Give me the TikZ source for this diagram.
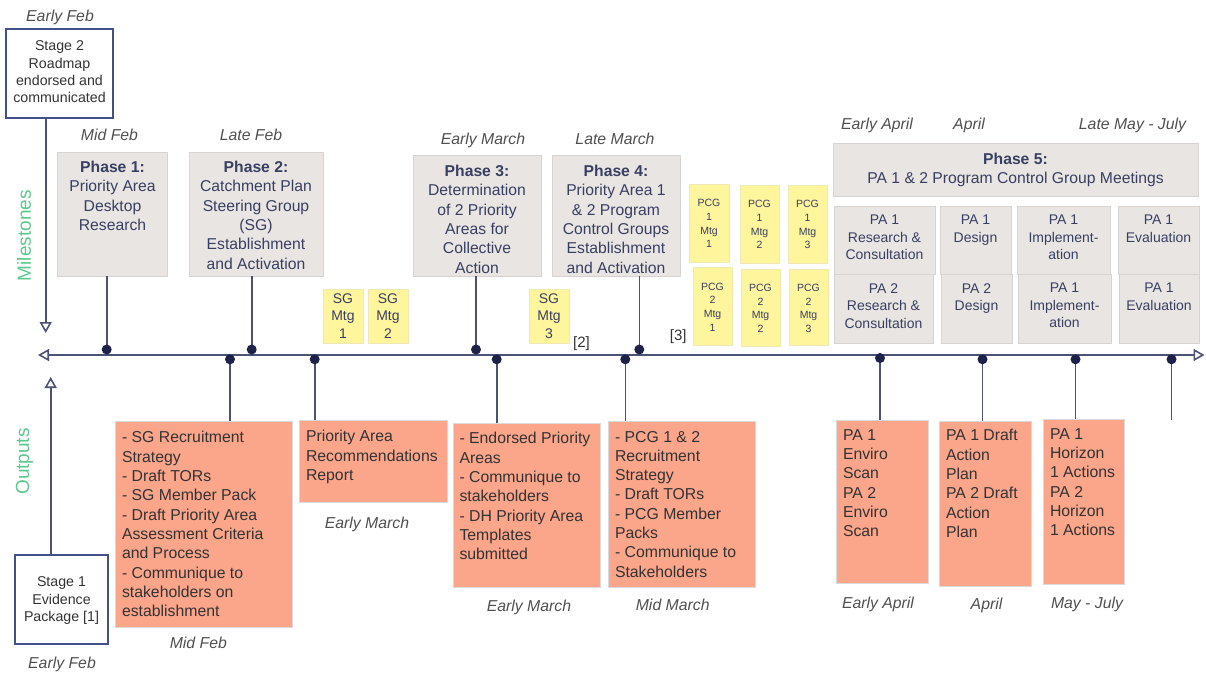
\documentclass[tikz,border=0pt]{standalone}
\usepackage{fontspec}
\setmainfont{Liberation Sans}
\usetikzlibrary{arrows.meta}
\definecolor{linec}{HTML}{4B5275}
\definecolor{dotc}{HTML}{1E2248}
\definecolor{gfill}{HTML}{E9E5E2}
\definecolor{gdraw}{HTML}{D6D3D0}
\definecolor{ofill}{HTML}{FBA58B}
\definecolor{odraw}{HTML}{DADADA}
\definecolor{yfill}{HTML}{FFF59C}
\definecolor{ydraw}{HTML}{EFEAB4}
\definecolor{navyt}{HTML}{383F62}
\definecolor{darkt}{HTML}{333333}
\definecolor{datec}{HTML}{4F4F4F}
\definecolor{greent}{HTML}{5AC98B}
\definecolor{sdraw}{HTML}{44508A}
\begin{document}
\begin{tikzpicture}[x=1pt,y=-1pt,
  every node/.style={inner sep=0pt,outer sep=0pt},
  sbox/.style={draw=sdraw,fill=white,line width=1.3pt},
  gbox/.style={draw=gdraw,fill=gfill,line width=0.9pt},
  obox/.style={draw=odraw,fill=ofill,line width=0.9pt},
  ybox/.style={draw=ydraw,fill=yfill,line width=0.8pt},
  conn/.style={draw=linec,line width=1.6pt},
  axisline/.style={draw=linec,line width=2pt},
  opentip/.tip={Triangle[open,length=11pt,width=12pt,line width=1.6pt]},
  dotn/.style={circle,fill=dotc,minimum size=10pt},
  stxt/.style={font=\fontsize{14.2}{17.4}\selectfont,text=darkt,align=center,anchor=north},
  ptxt/.style={font=\fontsize{15.7}{19.4}\selectfont,text=navyt,align=center,anchor=north},
  subtxt/.style={font=\fontsize{14}{17.5}\selectfont,text=navyt,align=center,anchor=north},
  sgtxt/.style={font=\fontsize{14}{17.5}\selectfont,text=navyt,align=center,anchor=north},
  pcgtxt/.style={font=\fontsize{10.5}{13.7}\selectfont,text=navyt,align=center,anchor=north},
  otxt/.style={font=\fontsize{15.8}{19.3}\selectfont,text=darkt,align=left,anchor=north west},
  datel/.style={font=\fontsize{15.8}{19}\selectfont\itshape,text=datec,anchor=base},
  notel/.style={font=\fontsize{15}{18}\selectfont,text=darkt,anchor=base},
  sidel/.style={font=\fontsize{19}{22}\selectfont,text=greent,rotate=90}
]
\useasboundingbox (0,0) rectangle (1206,675);

% ---------- side labels ----------
\node[sidel] (lm) at (24,235.7) {Milestones};
\node[sidel] (lo) at (24.5,461.5) {Outputs};

% ---------- stage boxes ----------
\node[sbox,minimum width=107pt,minimum height=89pt] (s2) at (59.5,73.5) {};
\node[stxt] (s2t) at (59.5,40.7) {Stage 2\\Roadmap\\endorsed and\\communicated};
\node[sbox,minimum width=93pt,minimum height=89pt] (s1) at (61.5,599.5) {};
\node[stxt] (s1t) at (61.5,576.7) {Stage 1\\Evidence\\Package [1]};

% ---------- milestone (phase) boxes ----------
\node[gbox,minimum width=110pt,minimum height=124pt] (p1) at (112,214) {};
\node[ptxt] (p1t) at (112.5,161) {\textbf{Phase 1:}\\Priority Area\\Desktop\\Research};
\node[gbox,minimum width=134pt,minimum height=124pt] (p2) at (256,214) {};
\node[ptxt] (p2t) at (256,161) {\textbf{Phase 2:}\\Catchment Plan\\Steering Group\\(SG)\\Establishment\\and Activation};
\node[gbox,minimum width=128pt,minimum height=121pt] (p3) at (477,215.5) {};
\node[ptxt] (p3t) at (477,165) {\textbf{Phase 3:}\\Determination\\of 2 Priority\\Areas for\\Collective\\Action};
\node[gbox,minimum width=128pt,minimum height=121pt] (p4) at (616,215.5) {};
\node[ptxt] (p4t) at (616,165) {\textbf{Phase 4:}\\Priority Area 1\\\& 2 Program\\Control Groups\\Establishment\\and Activation};

\node[gbox,minimum width=365pt,minimum height=53pt] (p5) at (1015.5,169.5) {};
\node[ptxt,font=\fontsize{15.7}{19}\selectfont] (p5t) at (1015.5,152.7) {\textbf{Phase 5:}\\PA 1 \& 2 Program Control Group Meetings};

% phase 5 sub boxes
\node[gbox,minimum width=101pt,minimum height=68pt] (r1a) at (884.5,240) {};
\node[subtxt] at (884.5,215) {PA 1\\Research \&\\Consultation};
\node[gbox,minimum width=71pt,minimum height=68pt] (r1b) at (975.5,240) {};
\node[subtxt] at (975.5,215) {PA 1\\Design};
\node[gbox,minimum width=93pt,minimum height=68pt] (r1c) at (1063.5,240) {};
\node[subtxt] at (1063.5,215) {PA 1\\Implement-\\ation};
\node[gbox,minimum width=81pt,minimum height=68pt] (r1d) at (1158.5,240) {};
\node[subtxt] at (1158.5,215) {PA 1\\Evaluation};
\node[gbox,minimum width=99pt,minimum height=69pt] (r2a) at (883.5,308.5) {};
\node[subtxt] at (883.5,283.3) {PA 2\\Research \&\\Consultation};
\node[gbox,minimum width=71pt,minimum height=69pt] (r2b) at (976.5,308.5) {};
\node[subtxt] at (976.5,283.3) {PA 2\\Design};
\node[gbox,minimum width=93pt,minimum height=69pt] (r2c) at (1064.5,308.5) {};
\node[subtxt] at (1064.5,283.3) {PA 1\\Implement-\\ation};
\node[gbox,minimum width=80pt,minimum height=69pt] (r2d) at (1159,308.5) {};
\node[subtxt] at (1159,283.3) {PA 1\\Evaluation};

% ---------- sticky notes ----------
\node[ybox,minimum width=40pt,minimum height=54pt] (sg1) at (343,316) {};
\node[sgtxt] at (343,293.3) {SG\\Mtg\\1};
\node[ybox,minimum width=40pt,minimum height=54pt] (sg2) at (388,316) {};
\node[sgtxt] at (388,293.3) {SG\\Mtg\\2};
\node[ybox,minimum width=40pt,minimum height=54pt] (sg3) at (549,316) {};
\node[sgtxt] at (549,293.3) {SG\\Mtg\\3};

\node[ybox,minimum width=40pt,minimum height=78pt] (pa1) at (709,223) {};
\node[pcgtxt] at (709,199.3) {PCG\\1\\Mtg\\1};
\node[ybox,minimum width=39pt,minimum height=78pt] (pa2) at (759.5,224) {};
\node[pcgtxt] at (759.5,200.3) {PCG\\1\\Mtg\\2};
\node[ybox,minimum width=39pt,minimum height=78pt] (pa3) at (807.5,224) {};
\node[pcgtxt] at (807.5,200.3) {PCG\\1\\Mtg\\3};
\node[ybox,minimum width=39pt,minimum height=78pt] (pb1) at (712.5,306) {};
\node[pcgtxt] at (712.5,282.7) {PCG\\2\\Mtg\\1};
\node[ybox,minimum width=39pt,minimum height=77pt] (pb2) at (760.5,307.5) {};
\node[pcgtxt] at (760.5,284.2) {PCG\\2\\Mtg\\2};
\node[ybox,minimum width=39pt,minimum height=76pt] (pb3) at (808.5,307) {};
\node[pcgtxt] at (808.5,284.2) {PCG\\2\\Mtg\\3};

\node[notel] (n2) at (581.5,347) {[2]};
\node[notel] (n3) at (678.3,340.5) {[3]};

% ---------- output boxes ----------
\node[obox,minimum width=177pt,minimum height=206pt] (oA) at (203.5,524) {};
\node[otxt] at (122,431.5) {- SG Recruitment\\Strategy\\- Draft TORs\\- SG Member Pack\\- Draft Priority Area\\Assessment Criteria\\and Process\\- Communique to\\stakeholders on\\establishment};
\node[obox,minimum width=148pt,minimum height=82pt] (oB) at (373,461) {};
\node[otxt] at (306,430.5) {Priority Area\\Recommendations\\Report};
\node[obox,minimum width=147pt,minimum height=164pt] (oC) at (526.5,505) {};
\node[otxt] at (459.5,432.5) {- Endorsed Priority\\Areas\\- Communique to\\stakeholders\\- DH Priority Area\\Templates\\submitted};
\node[obox,minimum width=147pt,minimum height=166pt] (oD) at (681.5,504) {};
\node[otxt] at (615,431) {- PCG 1 \& 2\\Recruitment\\Strategy\\- Draft TORs\\- PCG Member\\Packs\\- Communique to\\Stakeholders};
\node[obox,minimum width=92pt,minimum height=163pt] (oE) at (882,501.5) {};
\node[otxt] at (843,429.5) {PA 1\\Enviro\\Scan\\PA 2\\Enviro\\Scan};
\node[obox,minimum width=92pt,minimum height=165pt] (oF) at (985,503.5) {};
\node[otxt] at (946,429.5) {PA 1 Draft\\Action\\Plan\\PA 2 Draft\\Action\\Plan};
\node[obox,minimum width=81pt,minimum height=165pt] (oG) at (1083.5,501.5) {};
\node[otxt] at (1050,428.5) {PA 1\\Horizon\\1 Actions\\PA 2\\Horizon\\1 Actions};

% ---------- date labels ----------
\node[datel] (d1) at (60,21.3) {Early Feb};
\node[datel] (d2) at (109.5,140.6) {Mid Feb};
\node[datel] (d3) at (251,140.3) {Late Feb};
\node[datel] (d4) at (483,144) {Early March};
\node[datel] (d5) at (615,144) {Late March};
\node[datel] (d6) at (877,129.6) {Early April};
\node[datel] (d7) at (969,129.6) {April};
\node[datel] (d8) at (1132.5,129.6) {Late May - July};
\node[datel] (e1) at (62,668) {Early Feb};
\node[datel] (e2) at (198.3,648.6) {Mid Feb};
\node[datel] (e3) at (367,528) {Early March};
\node[datel] (e4) at (529,611.3) {Early March};
\node[datel] (e5) at (672.7,610) {Mid March};
\node[datel] (e6) at (878,608.6) {Early April};
\node[datel] (e7) at (986.5,609) {April};
\node[datel] (e8) at (1087,608.6) {May - July};

% ---------- axis and side arrows ----------
\coordinate (axl) at (38,355);
\coordinate (axr) at (1204.5,355);
\draw[axisline,opentip-opentip] (axl) -- (axr);
\coordinate (m1) at (45.7,333);
\draw[conn,-opentip] (s2.south -| m1) -- (m1);
\coordinate (o1) at (50.7,377);
\draw[conn,-opentip] (s1.north -| o1) -- (o1);

% ---------- milestone connectors ----------
\coordinate (u1) at (106.7,349.5);
\coordinate (u2) at (251.7,349.5);
\coordinate (u3) at (476,349.5);
\coordinate (u4) at (639.3,349.5);
\draw[conn] (p1.south -| u1) -- (u1);
\draw[conn] (p2.south -| u2) -- (u2);
\draw[conn] (p3.south -| u3) -- (u3);
\draw[conn] (p4.south -| u4) -- (u4);

% ---------- output connectors ----------
\coordinate (l1) at (230,359.3);
\coordinate (l2) at (314.7,359.3);
\coordinate (l3) at (496.7,359.3);
\coordinate (l4) at (625.3,359.3);
\coordinate (l5) at (880,358);
\coordinate (l6) at (982.5,359.3);
\coordinate (l7) at (1075.5,359.3);
\coordinate (l8) at (1171.5,359.3);
\coordinate (l8e) at (1171.5,420);
\draw[conn] (l1) -- (oA.north -| l1);
\draw[conn] (l2) -- (oB.north -| l2);
\draw[conn] (l3) -- (oC.north -| l3);
\draw[conn] (l4) -- (oD.north -| l4);
\draw[conn] (l5) -- (oE.north -| l5);
\draw[conn] (l6) -- (oF.north -| l6);
\draw[conn] (l7) -- (oG.north -| l7);
\draw[conn] (l8) -- (l8e);

% ---------- dots ----------
\foreach \c in {u1,u2,u3,u4,l1,l2,l3,l4,l5,l6,l7,l8}
  \node[dotn] (dot\c) at (\c) {};
\end{tikzpicture}
\end{document}
